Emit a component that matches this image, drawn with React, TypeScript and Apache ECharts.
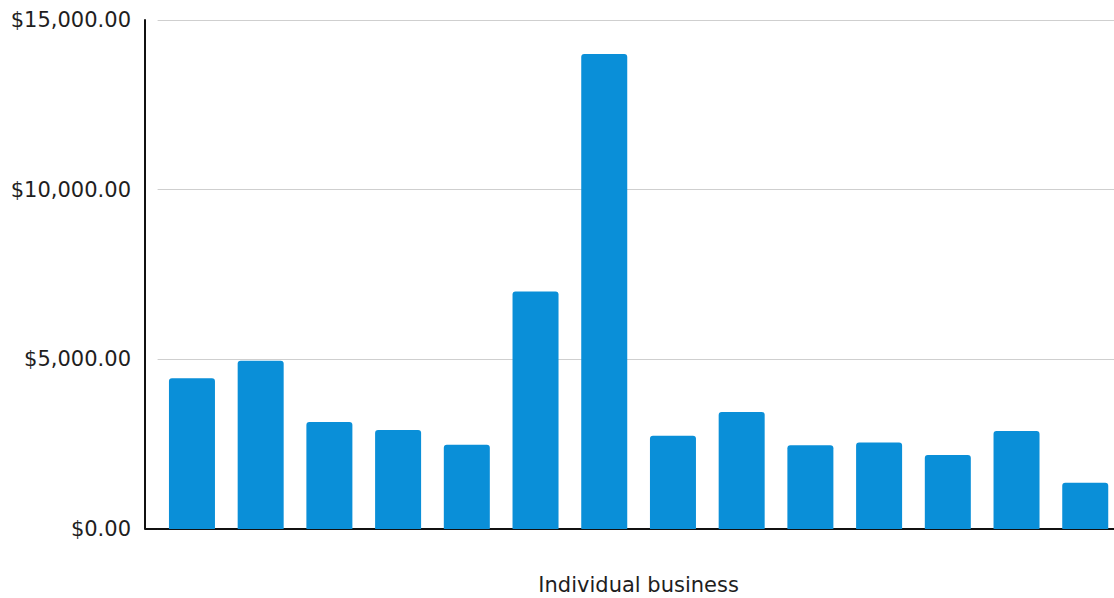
import React, { useEffect, useRef } from "react";
import * as echarts from "echarts";

const categories = [
  "Business 1", "Business 2", "Business 3", "Business 4", "Business 5",
  "Business 6", "Business 7", "Business 8", "Business 9", "Business 10",
  "Business 11", "Business 12", "Business 13", "Business 14",
];
const values = [4440, 4960, 3150, 2920, 2480, 7000, 14000, 2750, 3450, 2470, 2550, 2180, 2890, 1360];
const xAxisTitle = "Individual business";
const yMin = 0;
const yMax = 15000;
const yInterval = 5000;

export default function App() {
  const ref = useRef<HTMLDivElement>(null);
  useEffect(() => {
    if (!ref.current) return;
    const chart = echarts.init(ref.current, null, { renderer: "svg" });
    const fmt = (v: number) =>
      "$" + v.toLocaleString("en-US", { minimumFractionDigits: 2, maximumFractionDigits: 2 });
    chart.setOption({
      animation: false,
      backgroundColor: "#ffffff",
      grid: { left: 157.6, top: 20, width: 962, height: 509, outerBoundsMode: "none", containLabel: false },
      xAxis: {
        type: "category",
        data: categories,
        axisLine: { show: true, lineStyle: { color: "#111", width: 2 } },
        axisTick: { show: false },
        axisLabel: { show: false },
        name: xAxisTitle,
        nameLocation: "middle",
        nameGap: 45,
        nameTextStyle: { fontFamily: "DejaVu Sans", fontSize: 21, color: "#1e1e1e" },
      },
      yAxis: {
        type: "value",
        min: yMin,
        max: yMax,
        interval: yInterval,
        offset: 12.6,
        axisLine: { show: true, lineStyle: { color: "#111", width: 2 } },
        axisTick: { show: false },
        axisLabel: {
          formatter: fmt,
          margin: 14,
          fontFamily: "DejaVu Sans",
          fontSize: 21,
          color: "#1e1e1e",
        },
        splitLine: { show: true, lineStyle: { color: "#cfcfcf", width: 1 } },
      },
      graphic: [
        {
          type: "line",
          shape: { x1: 145, y1: 529, x2: 158, y2: 529 },
          style: { stroke: "#111", lineWidth: 2 },
        },
      ],
      series: [
        {
          type: "bar",
          data: values,
          barWidth: 46,
          itemStyle: { color: "#0a8fd8", borderRadius: [3, 3, 0, 0] },
        },
      ],
    });
    return () => chart.dispose();
  }, []);
  return (
    <div
      ref={ref}
      style={{ position: "fixed", left: 0, top: 0, width: 1114, height: 598 }}
    />
  );
}
